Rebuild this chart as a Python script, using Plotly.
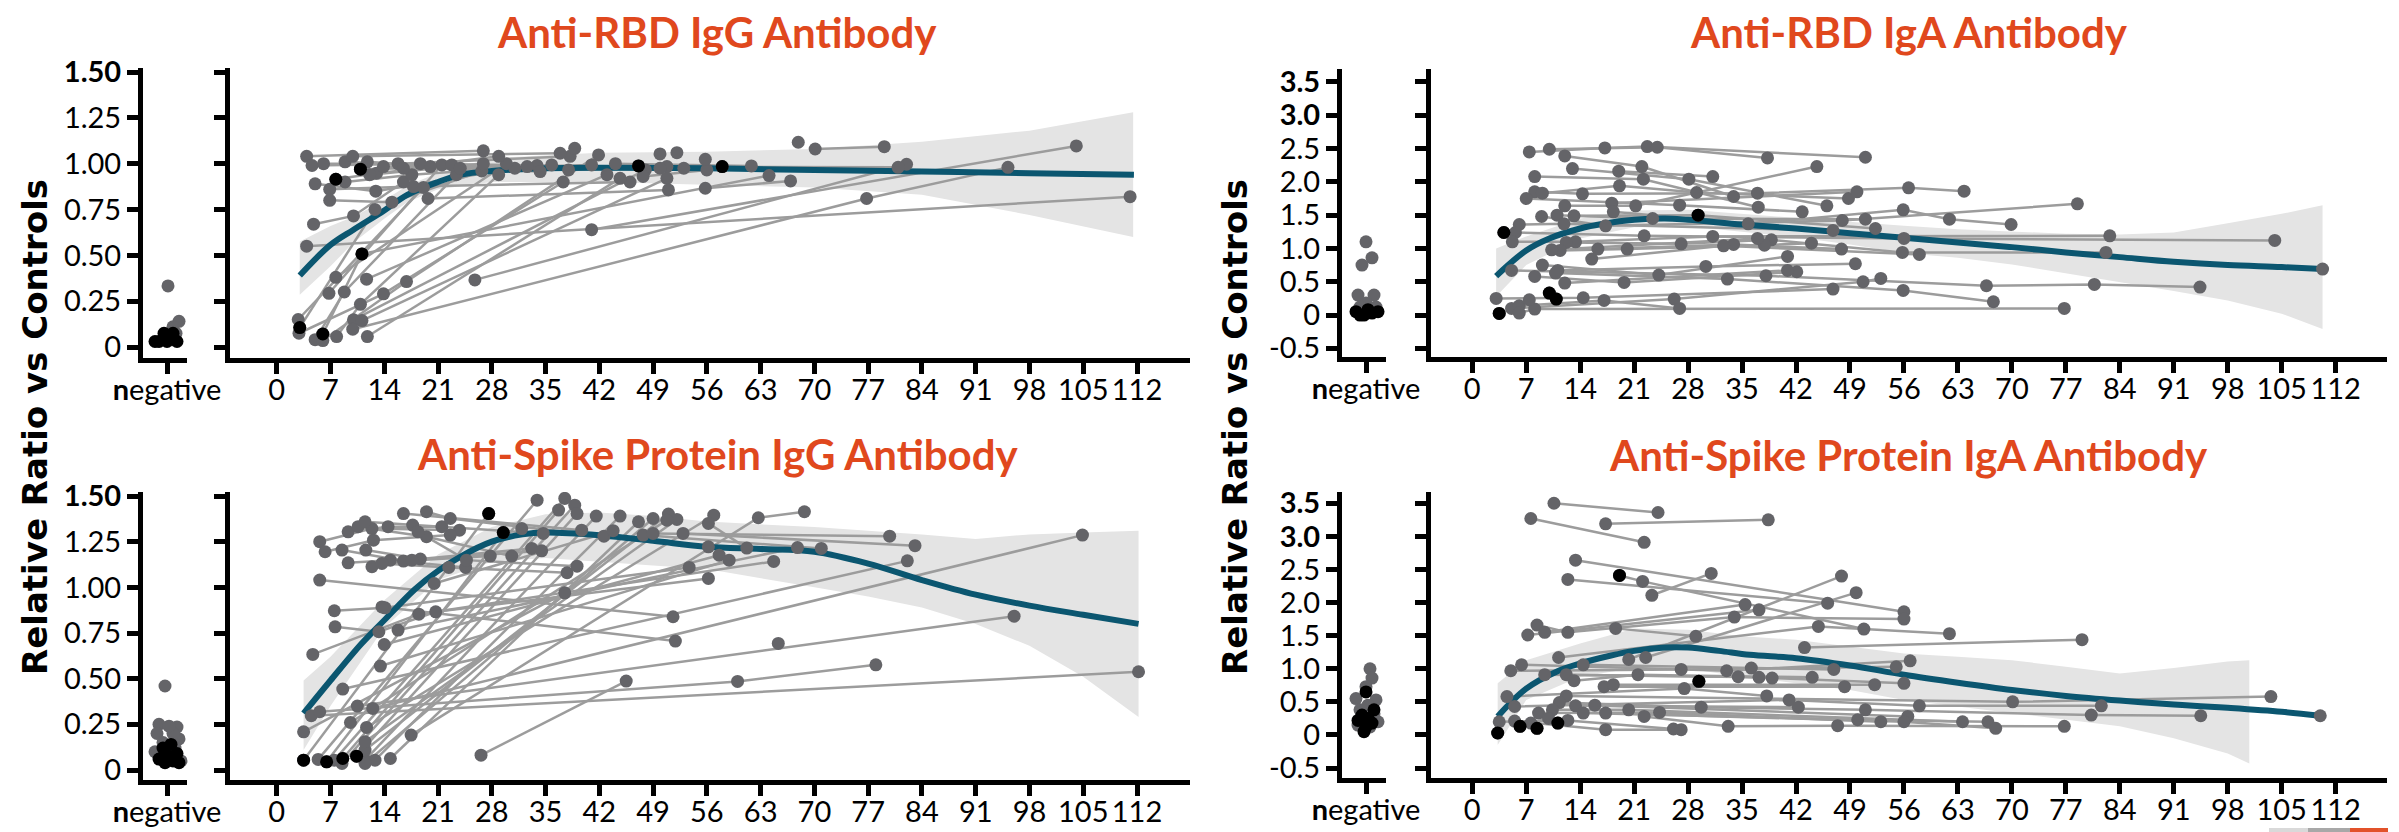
import plotly.graph_objects as go

# ======================= DATA =======================
day_ticks = [0, 7, 14, 21, 28, 35, 42, 49, 56, 63, 70, 77, 84, 91, 98, 105, 112]
igg_y_ticks = [0, 0.25, 0.5, 0.75, 1.0, 1.25, 1.5]
igg_y_labels = ["0", "0.25", "0.50", "0.75", "1.00", "1.25", "<b>1.50</b>"]
iga_y_ticks = [-0.5, 0, 0.5, 1.0, 1.5, 2.0, 2.5, 3.0, 3.5]
iga_y_labels = ["-0.5", "0", "0.5", "1.0", "1.5", "2.0", "2.5", "<b>3.0</b>", "<b>3.5</b>"]
titles = ["Anti-RBD IgG Antibody", "Anti-RBD IgA Antibody",
          "Anti-Spike Protein IgG Antibody", "Anti-Spike Protein IgA Antibody"]
y_title = "Relative Ratio vs Controls"
neg_label = "<b>n</b>egative"

# ---- Anti-RBD IgG (subjects separated by None) ----
rbd_igg_day = [3.9, 26.9, None, 4.6, 18.7, 33.9, None, 6.1, 15.8, 38.2, None, 5.0, 12.9, 31.0, None,
               6.9, 17.8, 46.0, None, 6.9, 15.0, 26.7, None, 4.8, 10.0, 16.5, None, 3.9, 111.1, None,
               2.8, 19.1, None, 3.0, 12.8, None, 2.9, 13.9, 37.3, None, 5.0, 8.8, 23.4, None,
               6.0, 11.1, 64.1, None, 6.0, 16.9, 41.9, None, 7.8, 10.9, 28.9, None, 7.7, 29.9, None,
               6.8, 21.5, None, 7.7, 13.0, 22.8, None, 8.9, 17.6, 35.8, None, 8.9, 20.0, 32.6, None,
               9.9, 36.9, None, 10.9, 16.5, 28.9, None, 10.0, 48.0, None, 11.1, 50.8, None,
               9.9, 76.8, 95.2, None, 11.8, 44.7, None, 11.7, 43.0, None, 11.8, 23.9, 41.0, None,
               12.1, 26.9, None, 13.9, 34.3, None, 19.7, 51.0, None, 25.8, 82.0, None, 41.0, 104.1, None,
               38.0, 58.0, None, 70.1, 79.1, None, 55.8, 66.9, None, 44.1, 61.8, None, 47.7, 56.0, None,
               50.8, 80.9, None, 38.8, None, 47.1, None, 49.9, None, 52.1, None, 53.0, None, 55.8, None,
               67.9, None, 49.9]
rbd_igg_value = [1.04, 1.07, None, 0.99, 1.00, 0.99, None, 1.00, 1.00, 1.04, None, 0.89, 0.85, 0.975, None,
                 0.86, 0.875, 0.90, None, 0.80, 0.79, 0.96, None, 0.67, 0.715, 0.90, None, 0.55, 0.82, None,
                 0.15, 0.87, None, 0.106, 0.75, None, 0.075, 0.29, 0.90, None, 0.04, 0.30, 0.94, None,
                 0.071, 0.508, 0.935, None, 0.035, 0.357, 1.048, None, 0.057, 0.233, 0.94, None, 0.38, 1.00, None,
                 0.293, 0.993, None, 0.915, 0.948, 0.993, None, 0.90, 0.94, 0.993, None, 1.01, 0.984, 0.984, None,
                 1.04, 1.057, None, 0.97, 0.975, 1.04, None, 0.148, 0.966, None, 0.144, 0.92, None,
                 0.097, 0.81, 0.98, None, 0.057, 0.92, None, 0.37, 0.94, None, 1.01, 0.975, 0.993, None,
                 0.94, 1.00, None, 0.984, 0.957, None, 0.81, 0.857, None, 0.366, 0.997, None, 0.64, 1.097, None,
                 0.966, 0.984, None, 1.08, 1.093, None, 0.866, 0.906, None, 1.00, 0.988, None, 0.93, 0.966, None,
                 0.984, 0.98, None, 1.084, None, 0.988, None, 1.053, None, 1.06, None, 0.975, None, 1.024, None,
                 1.117, None, 0.975]
rbd_igg_black_day = [3.0, 6.0, 7.7, 10.9, 11.1, 47.1, 58.0]
rbd_igg_black_value = [0.106, 0.071, 0.915, 0.97, 0.508, 0.988, 0.984]
rbd_igg_neg_x = [0.05, 0.6, 0.3, 0.45, -0.1, 0.25, -0.4, 0.0, 0.5, -0.15, 0.3, -0.6]
rbd_igg_neg_value = [0.333, 0.14, 0.11, 0.075, 0.07, 0.04, 0.03, 0.03, 0.03, 0.075, 0.075, 0.03]
rbd_igg_neg_black = [0, 0, 0, 0, 0, 0, 1, 1, 1, 1, 1, 1]
rbd_igg_fit_day = [3.0, 7, 10, 14, 17, 21, 24, 28, 35, 42, 56, 70, 84, 98, 111.6]
rbd_igg_fit = [0.39, 0.557, 0.64, 0.745, 0.83, 0.90, 0.94, 0.96, 0.975, 0.978, 0.975, 0.965, 0.957, 0.948, 0.94]
rbd_igg_band_day = [3.0, 7, 10, 14, 17, 21, 28, 42, 56, 70, 84, 98, 111.5]
rbd_igg_band_low = [0.285, 0.44, 0.57, 0.70, 0.79, 0.86, 0.90, 0.90, 0.885, 0.87, 0.83, 0.72, 0.60]
rbd_igg_band_high = [0.575, 0.66, 0.71, 0.80, 0.88, 0.95, 1.03, 1.06, 1.065, 1.08, 1.12, 1.18, 1.28]

# ---- Anti-RBD IgA ----
rbd_iga_day = [7.4, 17.2, 22.7, 51.0, None, 10.0, 24.0, 38.3, None, 12.0, 22.0, 33.9, None, 13.0, 28.1, 46.0, None,
               8.1, 22.2, 37.1, None, 19.0, 31.2, None, 8.1, 14.3, 37.0, 56.6, 63.8, None,
               9.1, 19.1, 29.1, 48.8, None, 7.0, 26.9, 42.8, None, 12.0, 21.2, 44.7, None, 18.1, 49.9, None,
               18.3, 35.8, 55.9, 61.9, 69.9, None, 9.0, 17.3, 48.0, 78.5, None, 11.0, 23.4, 51.0, None,
               13.2, 29.3, 52.3, None, 6.1, 11.9, 46.8, None, 5.6, 22.3, 56.0, 104.1, None, 4.1, None,
               5.2, 13.4, 31.2, 82.7, None, 12.2, 27.1, 38.8, None, 11.4, 20.1, 37.9, 44.0, None,
               10.3, 37.0, 55.8, 82.2, None, 16.3, 33.9, 47.9, None, 15.5, 32.6, 58.0, None, 9.1, 24.2, 40.9, None,
               11.1, 30.3, 49.7, None, 10.8, 33.1, 55.9, 67.6, None, 8.1, 19.7, 42.1, None,
               5.1, 38.1, 66.7, 80.7, 94.4, None, 12.0, 40.9, None, 3.1, 14.4, 46.8, None,
               5.1, 26.2, 50.7, 53.0, None, 6.1, 17.1, 26.9, None, 6.1, 8.1, 76.8, None, 7.4, None,
               3.5, None, 10.0, None, 10.9, None, 110.3]
rbd_iga_value = [2.45, 2.51, 2.53, 2.37, None, 2.49, 2.52, 2.36, None, 2.39, 2.23, 1.78, None, 2.20, 2.04, 1.64, None,
                 2.08, 2.04, 1.62, None, 2.16, 2.08, None, 1.85, 1.82, 1.83, 1.91, 1.86, None,
                 1.83, 1.94, 1.84, 1.75, None, 1.75, 1.65, 1.55, None, 1.64, 1.64, 2.23, None, 1.68, 1.85, None,
                 1.55, 1.37, 1.58, 1.44, 1.36, None, 1.48, 1.34, 1.42, 1.67, None, 1.50, 1.45, 1.44, None,
                 1.49, 1.50, 1.30, None, 1.36, 1.37, 1.27, None, 1.24, 1.19, 1.15, 1.12, None, 1.24, None,
                 1.10, 1.10, 1.18, 1.19, None, 1.09, 1.07, 1.13, None, 0.97, 0.99, 1.05, 1.08, None,
                 0.98, 1.15, 0.94, 0.94, None, 0.99, 1.06, 0.99, None, 0.84, 1.04, 0.91, None, 0.75, 0.60, 0.88, None,
                 0.67, 0.73, 0.77, None, 0.63, 0.54, 0.37, 0.20, None, 0.58, 0.49, 0.65, None,
                 0.67, 0.59, 0.44, 0.46, 0.42, None, 0.48, 0.67, None, 0.25, 0.26, 0.39, None,
                 0.10, 0.24, 0.50, 0.55, None, 0.14, 0.22, 0.10, None, 0.03, 0.09, 0.10, None, 0.23, None,
                 0.025, None, 0.33, None, 0.24, None, 0.69]
rbd_iga_black_day = [4.1, 29.3, 3.5, 10.0, 10.9]
rbd_iga_black_value = [1.24, 1.50, 0.025, 0.33, 0.24]
rbd_iga_neg_x = [0.0, 0.3, -0.2, -0.4, 0.4, 0.0, -0.3, 0.5, -0.5, -0.1, 0.3, 0.6, 0.1, -0.3]
rbd_iga_neg_value = [1.10, 0.86, 0.75, 0.30, 0.30, 0.18, 0.12, 0.12, 0.05, 0.0, 0.03, 0.05, 0.08, 0.0]
rbd_iga_neg_black = [0, 0, 0, 0, 0, 0, 0, 0, 1, 1, 1, 1, 1, 1]
rbd_iga_fit_day = [3.1, 7, 10, 14, 17, 21, 25, 28, 35, 42, 49, 56, 63, 70, 77, 84, 91, 98, 105, 110.3]
rbd_iga_fit = [0.585, 0.97, 1.15, 1.30, 1.37, 1.43, 1.45, 1.43, 1.36, 1.30, 1.23, 1.16, 1.09, 1.02, 0.94,
               0.87, 0.80, 0.75, 0.72, 0.69]
rbd_iga_band_day = [3.1, 7, 14, 21, 28, 35, 42, 49, 56, 63, 70, 77, 84, 91, 98, 105, 110.3]
rbd_iga_band_low = [0.28, 0.75, 1.15, 1.32, 1.33, 1.25, 1.17, 1.06, 0.93, 0.86, 0.76, 0.63, 0.49, 0.36, 0.22, 0.02, -0.21]
rbd_iga_band_high = [1.0, 1.18, 1.45, 1.57, 1.58, 1.52, 1.45, 1.40, 1.34, 1.29, 1.25, 1.22, 1.21, 1.24, 1.38, 1.52, 1.65]

# ---- Anti-Spike IgG ----
spike_igg_day = [3.5, 27.6, None, 6.5, 29.5, None, 5.4, 33.9, None, 7.5, 37.5, None, 8.5, 38.8, None,
                 8.6, 36.7, None, 10.4, 39.1, None, 11.5, 41.6, None, 12.8, 44.7, None, 14.8, 47.1, None,
                 11.5, 49.0, None, 11.5, 51.0, None, 11.5, 52.1, None, 11.7, 56.9, None, 9.6, 50.8, None,
                 17.5, 62.7, 68.7, None, 26.6, 45.5, None, 3.5, 37.5, None, 4.5, 112.2, None, 10.5, 96.0, None,
                 5.6, 60.0, 78.0, None, 12.5, 104.9, None, 8.6, 82.1, None, 4.7, 18.5, 64.7, None,
                 5.6, 51.6, None, 7.6, 13.3, 20.7, 56.2, None, 7.5, 14.1, 53.7, None, 13.7, 51.9, None,
                 15.8, 67.8, None, 14.0, 57.6, None, 13.5, 58.9, None, 5.6, 12.4, 23.8, None,
                 6.3, 12.6, 22.6, None, 8.5, 16.5, 27.8, None, 9.3, 14.5, 21.5, None, 9.3, 14.8, 24.6, None,
                 10.6, 19.5, 30.6, None, 11.5, 17.7, 34.7, None, 11.6, 18.7, 33.2, None, 12.4, 17.6, 34.5, None,
                 13.7, 22.4, 37.8, None, 16.5, 39.7, None, 19.5, 22.6, 42.6, None, 18.4, 24.7, 39.1, None,
                 20.5, 43.8, None, 47.7, 70.9, None, 49.0, 79.8, None, 52.9, 83.1, None, 56.2, 61.2, None,
                 31.9, None, 65.3, None, 56.2]
spike_igg_value = [0.054, 1.404, None, 0.045, 1.30, None, 0.058, 1.477, None, 0.054, 1.487, None, 0.036, 1.45, None,
                   0.063, 1.423, None, 0.076, 1.404, None, 0.054, 1.39, None, 0.054, 1.39, None, 0.063, 1.359, None,
                   0.036, 1.377, None, 0.109, 1.401, None, 0.155, 1.372, None, 0.233, 1.395, None, 0.26, 1.368, None,
                   0.191, 1.381, 1.414, None, 0.081, 0.487, None, 0.209, 0.97, None, 0.297, 0.538, None, 0.35, 0.842, None,
                   0.319, 0.485, 0.576, None, 0.337, 1.286, None, 0.443, 1.145, None, 0.633, 0.853, 1.142, None,
                   1.04, 0.839, None, 0.784, 0.757, 0.866, 1.049, None, 0.872, 0.888, 1.109, None, 0.893, 0.706, None,
                   0.766, 1.218, None, 0.687, 1.176, None, 0.569, 1.149, None, 1.25, 1.322, 1.313, None,
                   1.195, 1.258, 1.286, None, 1.204, 1.144, 1.171, None, 1.304, 1.332, 1.332, None, 1.134, 1.149, 1.109, None,
                   1.332, 1.277, 1.171, None, 1.359, 1.341, 1.295, None, 1.204, 1.155, 1.213, None, 1.113, 1.149, 1.20, None,
                   1.131, 1.109, 1.08, None, 1.404, 1.313, None, 1.414, 1.377, 1.28, None, 1.304, 1.149, 1.116, None,
                   1.021, 1.31, None, 1.286, 1.213, None, 1.295, 1.28, None, 1.295, 1.228, None, 1.35, 1.215, None,
                   1.322, None, 0.693, None, 1.222]
spike_igg_black_day = [3.5, 6.5, 8.6, 10.4, 27.6, 29.5]
spike_igg_black_value = [0.054, 0.045, 0.063, 0.076, 1.404, 1.30]
spike_igg_neg_x = [-0.1, -0.4, 0.5, -0.5, 0.6, -0.6, 0.3, 0.1, -0.2, 0.4, 0.7, -0.3,
                   -0.2, 0.2, 0.0, 0.5, -0.4, 0.3, 0.6, -0.1]
spike_igg_neg_value = [0.46, 0.25, 0.235, 0.20, 0.17, 0.10, 0.20, 0.24, 0.15, 0.12, 0.05, 0.06,
                       0.12, 0.14, 0.08, 0.09, 0.06, 0.05, 0.04, 0.04]
spike_igg_neg_black = [0, 0, 0, 0, 0, 0, 0, 0, 0, 0, 0, 0, 1, 1, 1, 1, 1, 1, 1, 1]
spike_igg_fit_day = [3.5, 7, 11, 14, 18, 21, 24, 28, 32, 35, 42, 49, 56, 63, 70, 77, 84, 91, 98, 105, 112.2]
spike_igg_fit = [0.31, 0.49, 0.69, 0.82, 0.99, 1.09, 1.17, 1.25, 1.29, 1.30, 1.285, 1.255, 1.222, 1.21, 1.195,
                 1.13, 1.04, 0.96, 0.90, 0.85, 0.80]
spike_igg_band_day = [3.5, 7, 14, 21, 28, 35, 42, 49, 56, 63, 70, 77, 84, 91, 98, 105, 112.2]
spike_igg_band_low = [0.11, 0.35, 0.78, 1.04, 1.14, 1.16, 1.14, 1.12, 1.10, 1.05, 1.00, 0.95, 0.89, 0.80, 0.68, 0.51, 0.29]
spike_igg_band_high = [0.49, 0.62, 0.93, 1.18, 1.33, 1.40, 1.41, 1.39, 1.36, 1.345, 1.33, 1.31, 1.29, 1.265, 1.29, 1.30, 1.31]

# ---- Anti-Spike IgA ----
spike_iga_day = [10.6, 24.1, None, 7.6, 22.3, None, 17.3, 38.4, None, 13.4, 56.0, None, 12.4, 46.1, None,
                 19.1, 22.1, 50.8, None, 23.3, 31.0, None, 20.3, 47.9, None, 22.5, 49.8, None, 18.6, 29.0, None,
                 8.4, 12.4, 34.0, 56.0, None, 7.2, 37.2, None, 9.4, 35.4, None, 43.1, 79.1, None,
                 11.2, 44.9, 61.9, None, 6.4, 33.0, 56.8, None, 5.0, 27.1, 55.0, None, 14.4, 36.2, 46.9, None,
                 9.4, 34.5, 38.9, None, 12.2, 37.2, 56.0, None, 13.2, 21.5, 44.1, None, 17.1, 48.3, None,
                 18.3, 52.2, None, 4.5, 27.5, 38.2, None, 5.5, 41.1, 58.0, 81.6, None, 12.2, 70.1, 103.6, None,
                 11.3, 29.7, 51.0, 80.3, 94.5, None, 13.4, 42.3, None, 15.9, 56.5, None, 8.6, 24.3, 53.0, None,
                 10.4, 20.3, 63.6, None, 14.4, 50.0, 66.9, None, 17.3, 56.0, 67.9, None,
                 22.3, 33.2, 47.4, 76.8, None, 3.5, 12.4, 26.1, None, 5.5, 17.3, 27.1, None, 7.6, 9.9, None,
                 3.3, None, 6.2, None, 8.4, None, 11.1, None, 29.4, None, 110.0]
spike_iga_value = [3.50, 3.36, None, 3.27, 2.91, None, 3.19, 3.25, None, 2.64, 1.86, None, 2.35, 1.99, None,
                   2.41, 2.32, 1.60, None, 2.11, 2.44, None, 1.14, 2.40, None, 1.17, 2.15, None, 1.61, 1.49, None,
                   1.66, 1.55, 1.78, 1.75, None, 1.51, 1.89, None, 1.55, 1.97, None, 1.32, 1.44, None,
                   1.17, 1.64, 1.53, None, 1.06, 0.97, 1.12, None, 0.97, 0.99, 1.03, None, 1.06, 1.01, 0.99, None,
                   0.91, 0.88, 0.86, None, 0.91, 0.87, 0.78, None, 0.82, 0.91, 0.87, None, 0.73, 0.73, None,
                   0.76, 0.76, None, 0.58, 0.70, 0.59, None, 0.43, 0.53, 0.44, 0.44, None, 0.59, 0.50, 0.58, None,
                   0.49, 0.42, 0.38, 0.30, 0.29, None, 0.44, 0.42, None, 0.45, 0.28, None, 0.33, 0.34, 0.20, None,
                   0.38, 0.38, 0.20, None, 0.33, 0.23, 0.20, None, 0.33, 0.20, 0.10, None,
                   0.28, 0.13, 0.14, 0.13, None, 0.20, 0.22, 0.09, None, 0.21, 0.08, 0.08, None, 0.18, 0.25, None,
                   0.03, None, 0.13, None, 0.10, None, 0.18, None, 0.81, None, 0.29]
spike_iga_black_day = [19.1, 3.3, 6.2, 8.4, 11.1, 29.4]
spike_iga_black_value = [2.41, 0.03, 0.13, 0.10, 0.18, 0.81]
spike_iga_neg_x = [0.2, 0.3, 0.0, -0.5, 0.5, 0.1, -0.3, 0.4, -0.2, 0.6, 0.2, -0.4,
                   0.0, 0.4, -0.2, 0.1, -0.4, 0.3, 0.0, -0.1]
spike_iga_neg_value = [1.0, 0.86, 0.73, 0.55, 0.53, 0.45, 0.38, 0.32, 0.22, 0.20, 0.12, 0.15,
                       0.65, 0.38, 0.30, 0.25, 0.22, 0.18, 0.12, 0.05]
spike_iga_neg_black = [0, 0, 0, 0, 0, 0, 0, 0, 0, 0, 0, 0, 1, 1, 1, 1, 1, 1, 1, 1]
spike_iga_fit_day = [3.3, 7, 11, 14, 18, 21, 25, 28, 32, 36, 42, 49, 56, 63, 70, 77, 84, 91, 98, 105, 110.0]
spike_iga_fit = [0.28, 0.70, 0.96, 1.08, 1.20, 1.27, 1.32, 1.32, 1.27, 1.21, 1.16, 1.05, 0.91, 0.79, 0.68,
                 0.59, 0.52, 0.46, 0.41, 0.35, 0.29]
spike_iga_band_day = [3.3, 7, 14, 21, 28, 35, 42, 49, 56, 63, 70, 77, 84, 91, 98, 100.8]
spike_iga_band_low = [-0.15, 0.53, 0.88, 1.01, 1.00, 0.88, 0.78, 0.68, 0.53, 0.43, 0.33, 0.23, 0.13, -0.05, -0.28, -0.43]
spike_iga_band_high = [0.78, 1.13, 1.38, 1.61, 1.59, 1.49, 1.44, 1.33, 1.23, 1.18, 1.13, 1.03, 0.93, 1.01, 1.11, 1.13]

# ======================= STYLE / LAYOUT =======================
W, H = 2399, 832
TITLE_COLOR = "#E0481D"
LINE_GRAY = "#9C9C9C"
DOT_GRAY = "#646468"
BAND = "#E4E4E4"
FIT = "#0B5670"
TICKFONT = dict(family="Lato, Open Sans, sans-serif", size=29, color="black")


def xdom(a, b):
    return [a / W, b / W]


def ydom(top, bottom):
    return [1 - bottom / H, 1 - top / H]


panels = [
    dict(day=rbd_igg_day, val=rbd_igg_value, bd=rbd_igg_black_day, bv=rbd_igg_black_value,
         nx=rbd_igg_neg_x, nv=rbd_igg_neg_value, nb=rbd_igg_neg_black,
         fd=rbd_igg_fit_day, fv=rbd_igg_fit, cd=rbd_igg_band_day, cl=rbd_igg_band_low, ch=rbd_igg_band_high,
         title=titles[0], yt=igg_y_ticks, yl=igg_y_labels,
         negx=(143, 187), mainx=(230, 1190), ypx=(68, 358), xr=[-6.08, 118.9], yr=[-0.060, 1.522],
         tpos=(717, 32)),
    dict(day=rbd_iga_day, val=rbd_iga_value, bd=rbd_iga_black_day, bv=rbd_iga_black_value,
         nx=rbd_iga_neg_x, nv=rbd_iga_neg_value, nb=rbd_iga_neg_black,
         fd=rbd_iga_fit_day, fv=rbd_iga_fit, cd=rbd_iga_band_day, cl=rbd_iga_band_low, ch=rbd_iga_band_high,
         title=titles[1], yt=iga_y_ticks, yl=iga_y_labels,
         negx=(1342, 1386), mainx=(1431, 2387), ypx=(69, 357), xr=[-5.35, 118.66], yr=[-0.63, 3.695],
         tpos=(1909, 32)),
    dict(day=spike_igg_day, val=spike_igg_value, bd=spike_igg_black_day, bv=spike_igg_black_value,
         nx=spike_igg_neg_x, nv=spike_igg_neg_value, nb=spike_igg_neg_black,
         fd=spike_igg_fit_day, fv=spike_igg_fit, cd=spike_igg_band_day, cl=spike_igg_band_low, ch=spike_igg_band_high,
         title=titles[2], yt=igg_y_ticks, yl=igg_y_labels,
         negx=(143, 187), mainx=(230, 1190), ypx=(492, 780), xr=[-6.08, 118.9], yr=[-0.0547, 1.522],
         tpos=(718, 454)),
    dict(day=spike_iga_day, val=spike_iga_value, bd=spike_iga_black_day, bv=spike_iga_black_value,
         nx=spike_iga_neg_x, nv=spike_iga_neg_value, nb=spike_iga_neg_black,
         fd=spike_iga_fit_day, fv=spike_iga_fit, cd=spike_iga_band_day, cl=spike_iga_band_low, ch=spike_iga_band_high,
         title=titles[3], yt=iga_y_ticks, yl=iga_y_labels,
         negx=(1342, 1386), mainx=(1431, 2387), ypx=(492, 778), xr=[-5.35, 118.66], yr=[-0.65, 3.67],
         tpos=(1908, 455)),
]

fig = go.Figure()
layout = dict(template="none", width=W, height=H, margin=dict(l=0, r=0, t=0, b=0, pad=0),
              showlegend=False, paper_bgcolor="white", plot_bgcolor="white")
annotations = []

axis_common = dict(showline=True, linecolor="black", linewidth=5, ticks="outside", ticklen=11,
                   tickwidth=5, tickcolor="black", showgrid=False, zeroline=False, tickfont=TICKFONT,
                   fixedrange=True, automargin=False, tickangle=0)

for i, p in enumerate(panels):
    assert len(p["day"]) == len(p["val"])
    n, m = 2 * i + 1, 2 * i + 2
    nxa = "x" if n == 1 else f"x{n}"
    nya = "y" if n == 1 else f"y{n}"
    mxa, mya = f"x{m}", f"y{m}"

    fig.add_trace(go.Scatter(x=p["cd"] + p["cd"][::-1], y=p["ch"] + p["cl"][::-1], fill="toself",
                             fillcolor=BAND, line=dict(width=0), mode="lines", hoverinfo="skip",
                             xaxis=mxa, yaxis=mya))
    fig.add_trace(go.Scatter(x=p["day"], y=p["val"], mode="lines", connectgaps=False,
                             line=dict(color=LINE_GRAY, width=2.5), hoverinfo="skip",
                             xaxis=mxa, yaxis=mya))
    fig.add_trace(go.Scatter(x=p["fd"], y=p["fv"], mode="lines",
                             line=dict(color=FIT, width=6, shape="spline", smoothing=1.0),
                             xaxis=mxa, yaxis=mya))
    fig.add_trace(go.Scatter(x=p["day"], y=p["val"], mode="markers",
                             marker=dict(color=DOT_GRAY, size=13), xaxis=mxa, yaxis=mya))
    fig.add_trace(go.Scatter(x=p["bd"], y=p["bv"], mode="markers",
                             marker=dict(color="black", size=13), xaxis=mxa, yaxis=mya))
    gx = [x for x, b in zip(p["nx"], p["nb"]) if b == 0]
    gy = [y for y, b in zip(p["nv"], p["nb"]) if b == 0]
    kx = [x for x, b in zip(p["nx"], p["nb"]) if b == 1]
    ky = [y for y, b in zip(p["nv"], p["nb"]) if b == 1]
    fig.add_trace(go.Scatter(x=gx, y=gy, mode="markers", marker=dict(color=DOT_GRAY, size=13),
                             xaxis=nxa, yaxis=nya, cliponaxis=False))
    fig.add_trace(go.Scatter(x=kx, y=ky, mode="markers", marker=dict(color="black", size=13),
                             xaxis=nxa, yaxis=nya, cliponaxis=False))

    ydomain = ydom(*p["ypx"])
    layout["xaxis" if n == 1 else f"xaxis{n}"] = dict(
        axis_common, domain=xdom(*p["negx"]), range=[-1.2, 1.0], tickvals=[0], ticktext=[neg_label],
        anchor=nya, ticklabelstandoff=-9)
    layout["yaxis" if n == 1 else f"yaxis{n}"] = dict(
        axis_common, domain=ydomain, range=p["yr"], tickvals=p["yt"], ticktext=p["yl"], anchor=nxa)
    layout[f"xaxis{m}"] = dict(
        axis_common, domain=xdom(*p["mainx"]), range=p["xr"], tickvals=day_ticks,
        ticktext=[str(t) for t in day_ticks], anchor=mya, ticklabelstandoff=-9)
    layout[f"yaxis{m}"] = dict(
        axis_common, domain=ydomain, range=p["yr"], tickvals=p["yt"], showticklabels=False, anchor=mxa)

    annotations.append(dict(text=f"<b>{p['title']}</b>", x=p["tpos"][0] / W, y=1 - p["tpos"][1] / H,
                            xref="paper", yref="paper", xanchor="center", yanchor="middle",
                            showarrow=False,
                            font=dict(family="Lato, Open Sans, sans-serif", size=42, color=TITLE_COLOR)))

for xc in (35, 1235):
    annotations.append(dict(text=f"<b>{y_title}</b>", x=xc / W, y=1 - 427 / H, xref="paper", yref="paper",
                            xanchor="center", yanchor="middle", textangle=-90, showarrow=False,
                            font=dict(family="DejaVu Sans, Verdana, sans-serif", size=34, color="black")))

layout["annotations"] = annotations
layout["shapes"] = [
    dict(type="rect", xref="paper", yref="paper", x0=2269 / W, x1=2308 / W, y0=0, y1=4 / H,
         fillcolor="#D9D9D9", line=dict(width=0)),
    dict(type="rect", xref="paper", yref="paper", x0=2308 / W, x1=2350 / W, y0=0, y1=4 / H,
         fillcolor="#A8A8A8", line=dict(width=0)),
    dict(type="rect", xref="paper", yref="paper", x0=2350 / W, x1=2388 / W, y0=0, y1=4 / H,
         fillcolor="#E2522A", line=dict(width=0)),
]
fig.update_layout(**layout)
fig.write_html("out.html")
